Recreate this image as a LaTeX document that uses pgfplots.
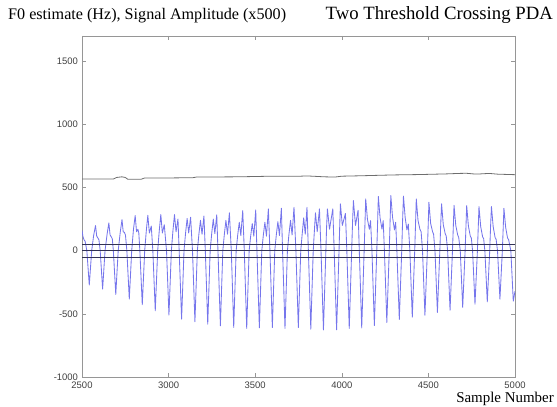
\documentclass[border=0pt]{standalone}
\usepackage{fontspec}
\setmainfont{Liberation Serif}
\newfontfamily\ticksfont{Liberation Sans}
\usepackage{pgfplots}
\pgfplotsset{compat=1.18}
\definecolor{sigblue}{RGB}{118,118,236}
\definecolor{thrcol}{RGB}{50,50,85}
\definecolor{fzero}{RGB}{110,110,110}
\definecolor{boxgray}{RGB}{150,150,150}
\begin{document}
\begin{tikzpicture}
\useasboundingbox (0,0) rectangle (557bp,407bp);
\begin{axis}[
  at={(82bp,30bp)}, anchor=south west,
  scale only axis, width=433bp, height=341bp,
  xmin=2500, xmax=5000, ymin=-1000, ymax=1700,
  xtick={2500,3000,3500,4000,4500,5000},
  xticklabels={2500,3000,3500,4000,4500,5000},
  ytick={-1000,-500,0,500,1000,1500},
  yticklabels={-1000,-500,0,500,1000,1500},
  tick align=inside, major tick length=4bp,
  axis line style={draw=boxgray, line width=0.8bp},
  tick style={draw=boxgray, line width=0.6bp},
  tick label style={font=\ticksfont\fontsize{9.5}{10}\selectfont, text=black!75},
  xticklabel style={yshift=-1.5bp},
  yticklabel style={xshift=-0.5bp},
]
\addplot[sigblue, line width=0.85bp, no marks, line join=round] coordinates {
(2500,160)(2505,115)(2511,88)(2518,75)(2524,30)
(2528,0)(2535,-136)(2542,-272)(2549,-136)(2556,0)
(2567,119)(2578,199)(2585,115)(2592,100)(2598,85)(2605,0)
(2612,-152)(2619,-304)(2626,-152)(2633,0)
(2645,132)(2655,220)(2662,125)(2669,110)(2675,94)(2681,0)
(2688,-173)(2695,-346)(2702,-173)(2709,0)
(2721,148)(2731,246)(2738,150)(2745,145)(2751,123)(2759,0)
(2766,-192)(2773,-383)(2780,-192)(2787,0)
(2797,167)(2807,278)(2815,150)(2823,170)(2828,140)(2834,0)
(2841,-214)(2848,-428)(2855,-214)(2862,0)
(2871,154)(2880,280)(2889,140)(2900,195)(2909,0)
(2916,-238)(2923,-476)(2930,-238)(2937,0)
(2946,157)(2955,286)(2964,140)(2975,206)(2988,0)
(2995,-255)(3002,-510)(3009,-255)(3016,0)
(3025,157)(3034,286)(3043,150)(3054,251)(3061,0)
(3068,-271)(3075,-542)(3082,-271)(3089,0)
(3098,140)(3107,255)(3116,140)(3127,265)(3138,0)
(3145,-282)(3152,-563)(3159,-282)(3166,0)
(3175,132)(3184,240)(3193,130)(3204,275)(3212,0)
(3219,-291)(3226,-582)(3233,-291)(3240,0)
(3249,138)(3258,250)(3267,135)(3278,285)(3285,0)
(3292,-298)(3299,-595)(3306,-298)(3313,0)
(3322,132)(3331,240)(3340,130)(3351,300)(3362,0)
(3369,-304)(3376,-608)(3383,-304)(3390,0)
(3399,124)(3408,225)(3417,120)(3428,318)(3437,0)
(3444,-308)(3451,-616)(3458,-308)(3465,0)
(3474,118)(3483,215)(3492,115)(3503,323)(3510,0)
(3517,-306)(3524,-611)(3531,-306)(3538,0)
(3547,124)(3556,225)(3565,115)(3576,331)(3585,0)
(3592,-304)(3599,-608)(3606,-304)(3613,0)
(3622,127)(3631,230)(3640,120)(3651,336)(3658,0)
(3665,-308)(3672,-616)(3679,-308)(3686,0)
(3695,132)(3704,240)(3713,125)(3724,344)(3735,0)
(3742,-304)(3749,-608)(3756,-304)(3763,0)
(3772,143)(3780,260)(3789,130)(3799,344)(3807,0)
(3814,-311)(3821,-621)(3828,-311)(3835,0)
(3842,165)(3848,300)(3858,150)(3871,331)(3880,0)
(3887,-314)(3894,-627)(3901,-314)(3908,0)
(3912,180)(3917,331)(3929,170)(3948,331)(3956,0)
(3963,-314)(3970,-627)(3977,-314)(3984,0)
(3988,200)(3992,371)(4003,200)(4021,295)(4029,0)
(4036,-308)(4043,-616)(4050,-308)(4057,0)
(4062,220)(4067,397)(4079,200)(4094,320)(4101,0)
(4108,-306)(4115,-612)(4122,-306)(4129,0)
(4134,225)(4138,410)(4148,250)(4159,170)(4166,238)(4174,0)
(4181,-296)(4188,-592)(4195,-296)(4202,0)
(4207,236)(4211,429)(4221,260)(4232,170)(4239,238)(4246,0)
(4253,-284)(4260,-568)(4267,-284)(4274,0)
(4279,240)(4283,437)(4293,265)(4304,165)(4311,225)(4318,0)
(4325,-273)(4332,-545)(4339,-273)(4346,0)
(4351,238)(4356,432)(4366,260)(4376,165)(4384,211)(4393,0)
(4400,-264)(4407,-527)(4414,-264)(4421,0)
(4426,225)(4430,410)(4440,240)(4451,170)(4458,150)(4466,0)
(4473,-256)(4480,-512)(4487,-256)(4494,0)
(4499,211)(4503,384)(4513,215)(4524,151)(4530,130)(4538,0)
(4545,-245)(4552,-489)(4559,-245)(4566,0)
(4571,204)(4576,371)(4586,205)(4597,135)(4603,115)(4611,0)
(4618,-236)(4625,-472)(4632,-236)(4639,0)
(4644,198)(4648,360)(4658,200)(4669,125)(4675,105)(4684,0)
(4691,-225)(4698,-449)(4705,-225)(4712,0)
(4717,196)(4721,357)(4731,195)(4742,115)(4748,100)(4755,0)
(4762,-212)(4769,-423)(4776,-212)(4783,0)
(4788,193)(4792,350)(4802,190)(4813,110)(4819,95)(4826,0)
(4833,-203)(4840,-405)(4847,-203)(4854,0)
(4859,193)(4864,350)(4874,190)(4885,105)(4891,90)(4899,0)
(4906,-192)(4913,-384)(4920,-192)(4927,0)
(4932,185)(4936,336)(4946,185)(4957,100)(4963,88)(4976,0)
(4983,-200)(4990,-400)(5000,-320)
};
\addplot[fzero, line width=0.8bp, no marks] coordinates {
(2500,567)(2680,567)(2700,580)(2730,585)(2750,580)(2765,565)(2840,565)(2860,575)
(3000,576)(3140,578)(3160,583)(3400,585)(3600,590)(3760,590)(3800,592)(3900,585)
(3960,583)(4000,590)(4100,593)(4300,600)(4450,603)(4600,608)(4680,612)(4720,613)
(4760,608)(4800,608)(4850,612)(4900,606)(5000,602)
};
\addplot[thrcol, line width=0.6bp, no marks] coordinates {(2500,50)(5000,50)};
\addplot[thrcol, line width=0.6bp, no marks] coordinates {(2500,0)(5000,0)};
\addplot[thrcol, line width=0.6bp, no marks] coordinates {(2500,-50)(5000,-50)};
\end{axis}
\node[anchor=base west, inner sep=0pt, font=\fontsize{16.2}{17}\selectfont] at (8bp,387bp) {F0 estimate (Hz), Signal Amplitude (x500)};
\node[anchor=base east, inner sep=0pt, font=\fontsize{18.8}{20}\selectfont] at (553bp,387bp) {Two Threshold Crossing PDA};
\node[anchor=base east, inner sep=0pt, font=\fontsize{15}{16}\selectfont] at (554bp,5bp) {Sample Number};
\end{tikzpicture}
\end{document}
